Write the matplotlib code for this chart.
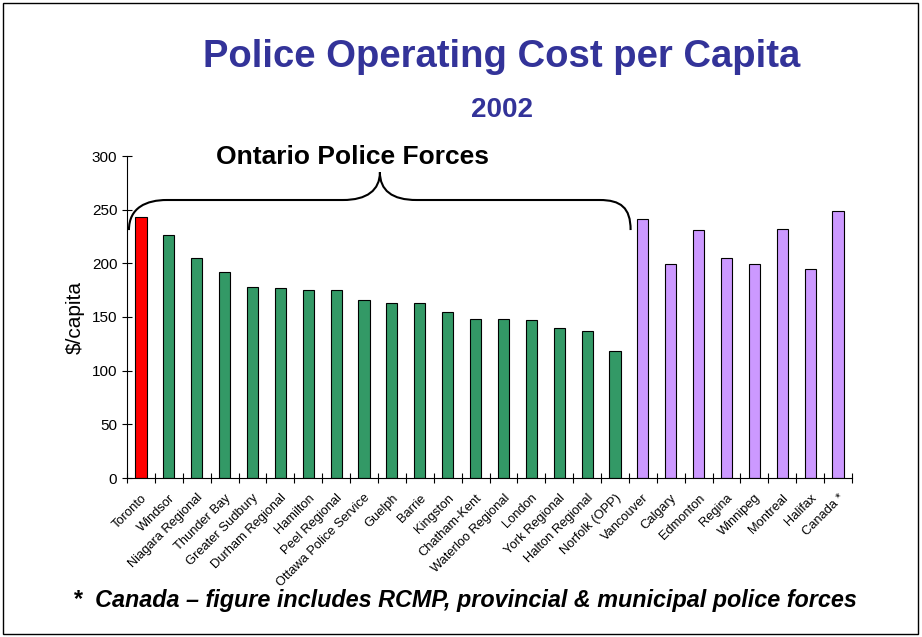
import numpy as np
import matplotlib
matplotlib.use("Agg")
import matplotlib.pyplot as plt
from matplotlib.path import Path
from matplotlib.patches import PathPatch, Rectangle

plt.rcParams["font.family"] = ["Liberation Sans", "DejaVu Sans"]

# ── Data
forces = [
    "Toronto", "Windsor", "Niagara Regional", "Thunder Bay", "Greater Sudbury",
    "Durham Regional", "Hamilton", "Peel Regional", "Ottawa Police Service",
    "Guelph", "Barrie", "Kingston", "Chatham-Kent", "Waterloo Regional",
    "London", "York Regional", "Halton Regional", "Norfolk (OPP)",
    "Vancouver", "Calgary", "Edmonton", "Regina", "Winnipeg", "Montreal",
    "Halifax", "Canada *",
]
cost = [
    243, 226, 205, 192, 178, 177, 175, 175, 166, 163, 163, 155, 148, 148,
    147, 140, 137, 118, 241, 199, 231, 205, 199, 232, 195, 249,
]
group = ["toronto"] + ["ontario"] * 17 + ["other"] * 8

C = {"toronto": "#ff0000", "ontario": "#339966", "other": "#cc99ff", "title": "#333399"}

fig = plt.figure(figsize=(9.22, 6.37), dpi=100)
ax = fig.add_axes([127 / 922, 1 - 478 / 637, 725 / 922, 322 / 637])

x = np.arange(len(forces))
ax.bar(x, cost, width=0.4, color=[C[g] for g in group], edgecolor="black", linewidth=0.8)

ax.set_xlim(-0.5, len(forces) - 0.5)
ax.set_ylim(0, 300)
ax.set_yticks(range(0, 301, 50))
ax.set_xticks(x)
ax.set_xticklabels(forces, rotation=45, ha="right", rotation_mode="anchor", fontsize=9.3)
ax.set_xticks(np.arange(-0.5, len(forces)), minor=True)
ax.tick_params(axis="x", which="major", length=0, pad=10)
ax.tick_params(axis="x", which="minor", direction="inout", length=7, width=0.8)
ax.tick_params(axis="y", direction="inout", length=7, width=0.8, labelsize=11)
for s in ("top", "right"):
    ax.spines[s].set_visible(False)
ax.set_ylabel("\\$/capita", fontsize=15, labelpad=5)

# ── Curly brace over Ontario forces
verts = [
    (-0.43, 231), (-0.43, 252), (0.2, 259), (0.93, 259),
    (7.24, 259),
    (8.1, 259), (8.57, 268), (8.57, 285),
    (8.57, 268), (9.0, 259), (9.89, 259),
    (16.45, 259),
    (17.2, 259), (17.56, 252), (17.56, 231),
]
codes = [Path.MOVETO, Path.CURVE4, Path.CURVE4, Path.CURVE4,
         Path.LINETO,
         Path.CURVE4, Path.CURVE4, Path.CURVE4,
         Path.CURVE4, Path.CURVE4, Path.CURVE4,
         Path.LINETO,
         Path.CURVE4, Path.CURVE4, Path.CURVE4]
ax.add_patch(PathPatch(Path(verts, codes), fill=False, lw=1.5, color="black", clip_on=False))

fig.text(352 / 922, 1 - 157 / 637, "Ontario Police Forces", fontsize=19, fontweight="bold",
         ha="center", va="center")

# ── Titles and footnote
fig.text(502 / 922, 1 - 57 / 637, "Police Operating Cost per Capita", fontsize=27.5,
         fontweight="bold", color=C["title"], ha="center", va="center")
fig.text(502 / 922, 1 - 110 / 637, "2002", fontsize=20, fontweight="bold",
         color=C["title"], ha="center", va="center")
fig.text(465 / 922, 1 - 600 / 637,
         "*  Canada – figure includes RCMP, provincial & municipal police forces",
         fontsize=16.8, fontweight="bold", style="italic", ha="center", va="center")

fig.add_artist(Rectangle((3 / 922, 3 / 637), 915 / 922, 631 / 637, transform=fig.transFigure,
                         fill=False, lw=1, edgecolor="black"))

fig.savefig("out.png", dpi=100)
